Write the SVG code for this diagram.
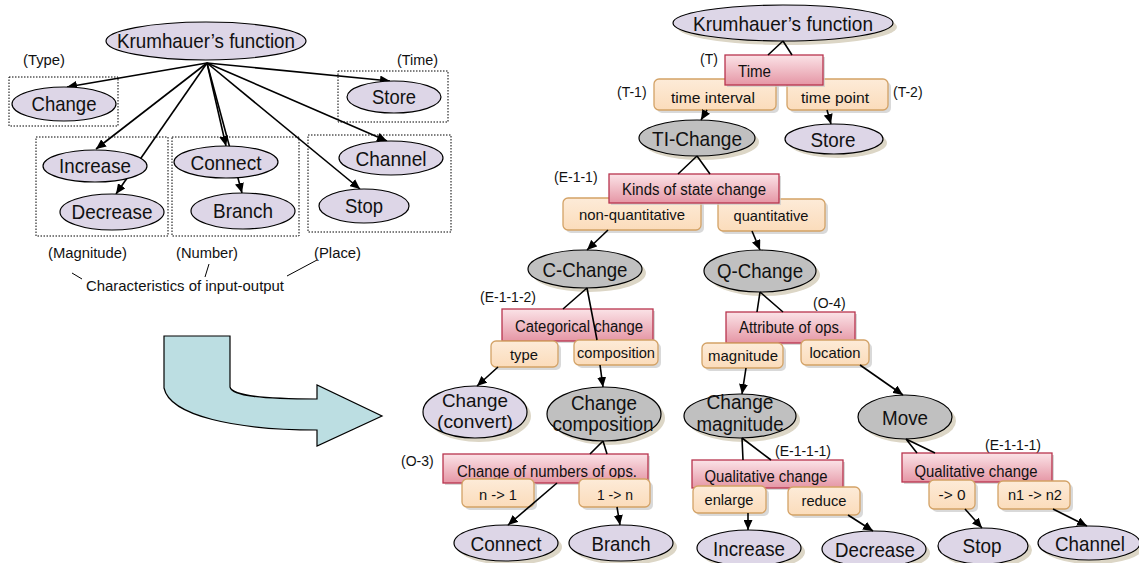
<svg xmlns="http://www.w3.org/2000/svg" width="1139" height="563" viewBox="0 0 1139 563">
<defs>
<linearGradient id="pinkG" x1="0" y1="0" x2="0" y2="1"><stop offset="0" stop-color="#fbe3e7"/><stop offset="1" stop-color="#e596a5"/></linearGradient>
<linearGradient id="orG" x1="0" y1="0" x2="0" y2="1"><stop offset="0" stop-color="#fdebd8"/><stop offset="1" stop-color="#fbdcbb"/></linearGradient>
<marker id="ah" markerUnits="userSpaceOnUse" markerWidth="11" markerHeight="9" refX="10" refY="4.5" orient="auto"><path d="M0,0 L10,4.5 L0,9 z" fill="#000"/></marker>
<style>
text{font-family:"Liberation Sans",Arial,sans-serif;fill:#111}
.big{font-size:21px;text-anchor:middle}
.mid{font-size:16px;text-anchor:middle}
.sm{font-size:15px;text-anchor:middle}
.ann{font-size:14px}
.el{fill:#ddd6e7;stroke:#000;stroke-width:1.2}
.gr{fill:#c0c0c0;stroke:#000;stroke-width:1.2}
.esh{fill:#dcd6c6}
.bsh{fill:#c9c9c9;opacity:.7}
.pk{fill:url(#pinkG);stroke:#b8344e;stroke-width:1.3}
.or{fill:url(#orG);stroke:#d3a266;stroke-width:1.3}
.dot{fill:none;stroke:#000;stroke-width:1;stroke-dasharray:1.5 1.5}
.ln{fill:none;stroke:#000;stroke-width:1.6}
.ar{marker-end:url(#ah)}
.thin{fill:none;stroke:#000;stroke-width:1}
</style>
</defs>
<rect width="1139" height="563" fill="#fff"/>

<!-- LEFT: dotted category boxes and annotations -->
<g id="categories">
<rect class="dot" x="9" y="77" width="109" height="49"/>
<rect class="dot" x="338" y="71" width="110" height="51"/>
<rect class="dot" x="36" y="137" width="132" height="99"/>
<rect class="dot" x="172" y="137" width="127" height="99"/>
<rect class="dot" x="308" y="135" width="143" height="97"/>
<text class="ann" x="23" y="65" textLength="42" lengthAdjust="spacingAndGlyphs">(Type)</text>
<text class="ann" x="397" y="65" textLength="41" lengthAdjust="spacingAndGlyphs">(Time)</text>
<text class="ann" x="48" y="258" textLength="79" lengthAdjust="spacingAndGlyphs">(Magnitude)</text>
<text class="ann" x="176" y="258" textLength="62" lengthAdjust="spacingAndGlyphs">(Number)</text>
<text class="ann" x="314" y="258" textLength="47" lengthAdjust="spacingAndGlyphs">(Place)</text>
<text x="86" y="291" style="font-size:15px" textLength="198" lengthAdjust="spacingAndGlyphs">Characteristics of input-output</text>
<path class="thin" d="M72,273 L82,279 M209,264 L205,277 M287,276 L317,260"/>
</g>

<!-- LEFT connectors (under nodes) -->
<g id="connectors-left">
<line class="ln ar" x1="207" y1="63" x2="67" y2="87"/>
<line class="ln ar" x1="207" y1="63" x2="96" y2="149"/>
<line class="ln ar" x1="207" y1="63" x2="116" y2="194"/>
<line class="ln ar" x1="207" y1="63" x2="226" y2="146"/>
<line class="ln ar" x1="207" y1="63" x2="242" y2="193"/>
<line class="ln ar" x1="207" y1="63" x2="390" y2="81"/>
<line class="ln ar" x1="207" y1="63" x2="387" y2="141"/>
<line class="ln ar" x1="207" y1="63" x2="360" y2="189"/>
</g>

<!-- LEFT nodes -->
<g id="L-krumhauer"><ellipse class="el" cx="206" cy="41" rx="100" ry="19"/><text class="big" x="206" y="48" textLength="178" lengthAdjust="spacingAndGlyphs">Krumhauer’s function</text></g>
<g id="L-change"><ellipse class="el" cx="64" cy="104" rx="52" ry="17"/><text class="big" x="64" y="111" textLength="65" lengthAdjust="spacingAndGlyphs">Change</text></g>
<g id="L-store"><ellipse class="el" cx="394" cy="97" rx="47" ry="16"/><text class="big" x="394" y="104" textLength="44" lengthAdjust="spacingAndGlyphs">Store</text></g>
<g id="L-increase"><ellipse class="el" cx="95" cy="166" rx="52" ry="16"/><text class="big" x="95" y="173" textLength="72" lengthAdjust="spacingAndGlyphs">Increase</text></g>
<g id="L-decrease"><ellipse class="el" cx="112" cy="212" rx="52" ry="18"/><text class="big" x="112" y="219" textLength="81" lengthAdjust="spacingAndGlyphs">Decrease</text></g>
<g id="L-connect"><ellipse class="el" cx="226" cy="162" rx="52" ry="16"/><text class="big" x="226" y="170" textLength="71" lengthAdjust="spacingAndGlyphs">Connect</text></g>
<g id="L-branch"><ellipse class="el" cx="243" cy="211" rx="52" ry="18"/><text class="big" x="243" y="218" textLength="60" lengthAdjust="spacingAndGlyphs">Branch</text></g>
<g id="L-channel"><ellipse class="el" cx="391" cy="158" rx="52" ry="17"/><text class="big" x="391" y="166" textLength="71" lengthAdjust="spacingAndGlyphs">Channel</text></g>
<g id="L-stop"><ellipse class="el" cx="364" cy="206" rx="45" ry="17"/><text class="big" x="364" y="213" textLength="38" lengthAdjust="spacingAndGlyphs">Stop</text></g>

<!-- Big transform arrow -->
<g id="transform-arrow">
<path d="M164,336 L230,336 L230,387 C232,396 262,399 317,399 L317,385 L382,416 L317,446 L317,430 C236,430 170,416 164,388 Z" fill="#bcdee2" stroke="#000" stroke-width="1.2"/>
</g>

<!-- RIGHT annotations -->
<g id="annotations-right">
<text class="ann" x="700" y="64">(T)</text>
<text class="ann" x="617" y="97">(T-1)</text>
<text class="ann" x="893" y="97">(T-2)</text>
<text class="ann" x="554" y="182">(E-1-1)</text>
<text class="ann" x="480" y="302">(E-1-1-2)</text>
<text class="ann" x="813" y="308">(O-4)</text>
<text class="ann" x="401" y="466">(O-3)</text>
<text class="ann" x="775" y="456">(E-1-1-1)</text>
<text class="ann" x="985" y="450">(E-1-1-1)</text>
</g>

<!-- RIGHT nodes -->
<g id="R-krumhauer"><ellipse class="esh" cx="787" cy="27" rx="110" ry="18"/><ellipse class="el" cx="783" cy="23" rx="110" ry="18"/><text class="big" x="783" y="31" textLength="180" lengthAdjust="spacingAndGlyphs">Krumhauer’s function</text></g>

<g id="R-time-interval"><rect class="bsh" x="657" y="82" width="122" height="31" rx="5"/><rect class="or" x="654" y="79" width="122" height="31" rx="5"/><text class="sm" x="713" y="103" textLength="84" lengthAdjust="spacingAndGlyphs">time interval</text></g>
<g id="R-time-point"><rect class="bsh" x="790" y="82" width="101" height="31" rx="5"/><rect class="or" x="787" y="79" width="101" height="31" rx="5"/><text class="sm" x="835" y="103" textLength="68" lengthAdjust="spacingAndGlyphs">time point</text></g>
<g id="R-time"><rect class="bsh" x="727" y="57" width="98" height="30"/><rect class="pk" x="725" y="55" width="98" height="30"/><text class="mid" x="738" y="77" style="text-anchor:start" textLength="33" lengthAdjust="spacingAndGlyphs">Time</text></g>

<g id="R-ti-change"><ellipse class="esh" cx="701" cy="142" rx="58" ry="18"/><ellipse class="gr" cx="697" cy="138" rx="58" ry="18"/><text class="big" x="697" y="146" textLength="90" lengthAdjust="spacingAndGlyphs">TI-Change</text></g>
<g id="R-store"><ellipse class="esh" cx="838" cy="143" rx="49" ry="15"/><ellipse class="el" cx="834" cy="139" rx="49" ry="15"/><text class="big" x="833" y="147" textLength="45" lengthAdjust="spacingAndGlyphs">Store</text></g>

<g id="R-non-quantitative"><rect class="bsh" x="566" y="201" width="138" height="32" rx="5"/><rect class="or" x="563" y="198" width="138" height="32" rx="5"/><text class="sm" x="632" y="220" textLength="106" lengthAdjust="spacingAndGlyphs">non-quantitative</text></g>
<g id="R-quantitative"><rect class="bsh" x="721" y="202" width="107" height="32" rx="5"/><rect class="or" x="718" y="199" width="107" height="32" rx="5"/><text class="sm" x="771" y="221" textLength="75" lengthAdjust="spacingAndGlyphs">quantitative</text></g>
<g id="R-kinds"><rect class="bsh" x="611" y="176" width="170" height="29"/><rect class="pk" x="609" y="174" width="170" height="29"/><text class="mid" x="694" y="195" textLength="144" lengthAdjust="spacingAndGlyphs">Kinds of state change</text></g>

<g id="R-c-change"><ellipse class="esh" cx="589" cy="273" rx="57" ry="19"/><ellipse class="gr" cx="585" cy="269" rx="57" ry="19"/><text class="big" x="585" y="277" textLength="85" lengthAdjust="spacingAndGlyphs">C-Change</text></g>
<g id="R-q-change"><ellipse class="esh" cx="764" cy="275" rx="56" ry="21"/><ellipse class="gr" cx="760" cy="271" rx="56" ry="21"/><text class="big" x="760" y="278" textLength="86" lengthAdjust="spacingAndGlyphs">Q-Change</text></g>

<g id="R-categorical"><rect class="bsh" x="504" y="311" width="151" height="32"/><rect class="pk" x="502" y="309" width="151" height="32"/><text class="mid" x="579" y="332" textLength="128" lengthAdjust="spacingAndGlyphs">Categorical change</text></g>
<g id="R-type"><rect class="bsh" x="494" y="344" width="67" height="26" rx="5"/><rect class="or" x="491" y="341" width="67" height="26" rx="5"/><text class="sm" x="524" y="360" textLength="28" lengthAdjust="spacingAndGlyphs">type</text></g>
<g id="R-composition"><rect class="bsh" x="577" y="343" width="84" height="25" rx="5"/><rect class="or" x="574" y="340" width="84" height="25" rx="5"/><text class="sm" x="616" y="358" textLength="78" lengthAdjust="spacingAndGlyphs">composition</text></g>

<g id="R-attribute"><rect class="bsh" x="728" y="314" width="129" height="31"/><rect class="pk" x="726" y="312" width="129" height="31"/><text class="mid" x="791" y="333" textLength="104" lengthAdjust="spacingAndGlyphs">Attribute of ops.</text></g>
<g id="R-magnitude"><rect class="bsh" x="705" y="346" width="81" height="25" rx="5"/><rect class="or" x="702" y="343" width="81" height="25" rx="5"/><text class="sm" x="743" y="361" textLength="70" lengthAdjust="spacingAndGlyphs">magnitude</text></g>
<g id="R-location"><rect class="bsh" x="804" y="343" width="68" height="25" rx="5"/><rect class="or" x="801" y="340" width="68" height="25" rx="5"/><text class="sm" x="835" y="358" textLength="51" lengthAdjust="spacingAndGlyphs">location</text></g>

<g id="R-change-convert"><ellipse class="esh" cx="479" cy="416" rx="52" ry="26"/><ellipse class="el" cx="475" cy="412" rx="52" ry="26"/><text class="big" x="475" y="407" style="font-size:19px" textLength="66" lengthAdjust="spacingAndGlyphs">Change</text><text class="big" x="475" y="428" style="font-size:19px" textLength="76" lengthAdjust="spacingAndGlyphs">(convert)</text></g>
<g id="R-change-composition"><ellipse class="esh" cx="608" cy="418" rx="57" ry="27"/><ellipse class="gr" cx="604" cy="414" rx="57" ry="27"/><text class="big" x="604" y="410" style="font-size:20px" textLength="66" lengthAdjust="spacingAndGlyphs">Change</text><text class="big" x="603" y="431" style="font-size:20px" textLength="101" lengthAdjust="spacingAndGlyphs">composition</text></g>
<g id="R-change-magnitude"><ellipse class="esh" cx="744" cy="420" rx="56" ry="22"/><ellipse class="gr" cx="740" cy="416" rx="56" ry="22"/><text class="big" x="740" y="409" style="font-size:20px" textLength="67" lengthAdjust="spacingAndGlyphs">Change</text><text class="big" x="740" y="431" style="font-size:20px" textLength="87" lengthAdjust="spacingAndGlyphs">magnitude</text></g>
<g id="R-move"><ellipse class="esh" cx="909" cy="421" rx="47" ry="22"/><ellipse class="gr" cx="905" cy="417" rx="47" ry="22"/><text class="big" x="905" y="425" style="font-size:20px" textLength="46" lengthAdjust="spacingAndGlyphs">Move</text></g>

<g id="R-numbers"><rect class="bsh" x="445" y="456" width="205" height="29"/><rect class="pk" x="443" y="454" width="205" height="29"/><text class="mid" x="547" y="477" textLength="180" lengthAdjust="spacingAndGlyphs">Change of numbers of ops.</text></g>
<g id="R-n-to-1"><rect class="bsh" x="465" y="482" width="72" height="28" rx="5"/><rect class="or" x="462" y="479" width="72" height="28" rx="5"/><text class="sm" x="498" y="500" textLength="38" lengthAdjust="spacingAndGlyphs">n -&gt; 1</text></g>
<g id="R-1-to-n"><rect class="bsh" x="582" y="482" width="71" height="28" rx="5"/><rect class="or" x="579" y="479" width="71" height="28" rx="5"/><text class="sm" x="615" y="500" textLength="36" lengthAdjust="spacingAndGlyphs">1 -&gt; n</text></g>

<g id="R-qual-left"><rect class="bsh" x="694" y="462" width="151" height="28"/><rect class="pk" x="692" y="460" width="151" height="28"/><text class="mid" x="766" y="482" textLength="123" lengthAdjust="spacingAndGlyphs">Qualitative change</text></g>
<g id="R-enlarge"><rect class="bsh" x="696" y="489" width="73" height="27" rx="5"/><rect class="or" x="693" y="486" width="73" height="27" rx="5"/><text class="sm" x="729" y="505" textLength="49" lengthAdjust="spacingAndGlyphs">enlarge</text></g>
<g id="R-reduce"><rect class="bsh" x="791" y="490" width="72" height="28" rx="5"/><rect class="or" x="788" y="487" width="72" height="28" rx="5"/><text class="sm" x="824" y="506" textLength="45" lengthAdjust="spacingAndGlyphs">reduce</text></g>

<g id="R-qual-right"><rect class="bsh" x="904" y="455" width="150" height="29"/><rect class="pk" x="902" y="453" width="150" height="29"/><text class="mid" x="976" y="477" textLength="123" lengthAdjust="spacingAndGlyphs">Qualitative change</text></g>
<g id="R-to-0"><rect class="bsh" x="932" y="483" width="46" height="29" rx="5"/><rect class="or" x="929" y="480" width="46" height="29" rx="5"/><text class="sm" x="952" y="500" textLength="27" lengthAdjust="spacingAndGlyphs">-&gt; 0</text></g>
<g id="R-n1-n2"><rect class="bsh" x="1001" y="484" width="72" height="28" rx="5"/><rect class="or" x="998" y="481" width="72" height="28" rx="5"/><text class="sm" x="1035" y="500" textLength="54" lengthAdjust="spacingAndGlyphs">n1 -&gt; n2</text></g>

<g id="R-connect"><ellipse class="esh" cx="510" cy="547" rx="52" ry="18"/><ellipse class="el" cx="506" cy="543" rx="52" ry="18"/><text class="big" x="506" y="551" textLength="71" lengthAdjust="spacingAndGlyphs">Connect</text></g>
<g id="R-branch"><ellipse class="esh" cx="625" cy="547" rx="52" ry="18"/><ellipse class="el" cx="621" cy="543" rx="52" ry="18"/><text class="big" x="621" y="551" textLength="59" lengthAdjust="spacingAndGlyphs">Branch</text></g>
<g id="R-increase"><ellipse class="esh" cx="753" cy="552" rx="52" ry="18"/><ellipse class="el" cx="749" cy="548" rx="52" ry="18"/><text class="big" x="749" y="556" textLength="72" lengthAdjust="spacingAndGlyphs">Increase</text></g>
<g id="R-decrease"><ellipse class="esh" cx="878" cy="553" rx="52" ry="18"/><ellipse class="el" cx="874" cy="549" rx="52" ry="18"/><text class="big" x="875" y="557" textLength="80" lengthAdjust="spacingAndGlyphs">Decrease</text></g>
<g id="R-stop"><ellipse class="esh" cx="987" cy="550" rx="45" ry="18"/><ellipse class="el" cx="983" cy="546" rx="45" ry="18"/><text class="big" x="982" y="553" textLength="39" lengthAdjust="spacingAndGlyphs">Stop</text></g>
<g id="R-channel"><ellipse class="esh" cx="1093" cy="547" rx="51" ry="17"/><ellipse class="el" cx="1089" cy="543" rx="51" ry="17"/><text class="big" x="1090" y="551" textLength="70" lengthAdjust="spacingAndGlyphs">Channel</text></g>

<!-- RIGHT connectors -->
<g id="connectors-right">
<path class="ln" d="M783,41 L768,55 M783,41 L792,55"/>
<line class="ln ar" x1="707" y1="110" x2="701" y2="120"/>
<line class="ln ar" x1="827" y1="110" x2="831" y2="124"/>
<path class="ln" d="M697,156 L678,174 M697,156 L710,174"/>
<line class="ln ar" x1="608" y1="230" x2="587" y2="250"/>
<line class="ln ar" x1="752" y1="231" x2="760" y2="250"/>
<path class="ln" d="M587,288 L563,309 M587,288 L597,340"/>
<line class="ln ar" x1="498" y1="367" x2="477" y2="386"/>
<line class="ln ar" x1="600" y1="365" x2="603" y2="387"/>
<path class="ln" d="M760,292 L757,312 M760,292 L783,312"/>
<line class="ln ar" x1="746" y1="368" x2="742" y2="394"/>
<line class="ln ar" x1="860" y1="365" x2="903" y2="395"/>
<path class="ln" d="M603,441 L590,454 M603,441 L607,454"/>
<line class="ln ar" x1="557" y1="483" x2="508" y2="525"/>
<line class="ln ar" x1="617" y1="507" x2="620" y2="525"/>
<path class="ln" d="M742,438 L743,460 M742,438 L771,460"/>
<line class="ln ar" x1="748" y1="513" x2="748" y2="530"/>
<line class="ln ar" x1="848" y1="515" x2="873" y2="531"/>
<path class="ln" d="M906,439 L917,453 M906,439 L935,453"/>
<line class="ln ar" x1="965" y1="509" x2="982" y2="528"/>
<line class="ln ar" x1="1053" y1="509" x2="1087" y2="526"/>
</g>
</svg>
